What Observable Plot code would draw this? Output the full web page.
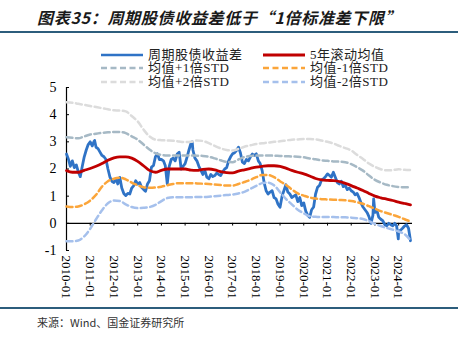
<!DOCTYPE html>
<html><head><meta charset="utf-8">
<script src="https://cdn.jsdelivr.net/npm/d3@7"></script>
<script src="https://cdn.jsdelivr.net/npm/@observablehq/plot@0.6"></script>
<style>
body{margin:0;background:#fff;}
#wrap{position:relative;width:463px;height:342px;overflow:hidden;background:#fff;}
#title{position:absolute;left:37px;top:5px;font-family:"Noto Sans CJK SC",sans-serif;font-weight:bold;font-style:italic;font-size:16px;letter-spacing:0.7px;color:#1a1a1a;white-space:nowrap;}
.hr{position:absolute;left:0;width:458px;height:1.5px;background:#2C5D7C;}
.leg{position:absolute;font-family:"Liberation Serif","Noto Sans CJK SC",serif;font-size:13px;letter-spacing:0.5px;color:#222;white-space:nowrap;line-height:13px;}
.sw{position:absolute;}
#chart{position:absolute;left:0;top:80px;}
#source{position:absolute;left:37px;top:314px;font-family:"Noto Sans CJK SC",sans-serif;font-size:11px;color:#333;white-space:nowrap;}
</style></head><body>
<div id="wrap">
<div id="title">图表35：周期股债收益差低于“1倍标准差下限”</div>
<div class="hr" style="top:31px"></div>
<div id="legend"></div>
<div id="chart"></div>
<div class="hr" style="top:307px"></div>
<div id="source">来源：Wind、国金证券研究所</div>
</div>
<script>
// ---- series names & colours ----
const seriesNames = ["周期股债收益差","5年滚动均值","均值+1倍STD","均值-1倍STD","均值+2倍STD","均值-2倍STD"];
const seriesColors = ["#2F73C6","#C00000","#A6B9C5","#FBA53A","#DCDCDC","#A5C0EC"];

// ---- axis ticks ----
const yTicks = [-1, 0, 1, 2, 3, 4, 5];
const xTickLabels = ["2010-01","2011-01","2012-01","2013-01","2014-01","2015-01","2016-01","2017-01","2018-01","2019-01","2020-01","2021-01","2022-01","2023-01","2024-01"];

// ---- 周期股债收益差 (monthly readings, 2010-01 .. 2024-07) ----
const spread = [
  2.55, 2.35, 2.10, 2.30, 2.05, 2.15, 1.90, 1.72, 2.10, 2.45, 2.70, 2.90, // 2010
  3.00, 2.85, 3.02, 2.80, 2.75, 2.62, 2.50, 2.45, 2.35, 2.00, 1.70, 1.55, // 2011
  1.50, 1.65, 1.45, 1.69, 1.30, 1.10, 1.02, 1.10, 1.08, 1.30, 1.39, 1.57, // 2012
  1.45, 1.50, 1.33, 1.25, 1.18, 1.45, 1.57, 2.07, 2.13, 2.45, 2.56, 2.35, // 2013
  2.35, 2.30, 2.13, 1.45, 2.10, 2.35, 2.40, 2.30, 2.55, 2.62, 2.00, 2.10, // 2014
  2.20, 2.45, 2.70, 2.95, 2.70, 2.40, 2.30, 2.10, 1.95, 1.80, 1.94, 1.70, // 2015
  1.64, 1.80, 1.72, 1.76, 1.85, 1.80, 1.76, 1.90, 2.00, 2.05, 2.30, 2.45, // 2016
  2.56, 2.60, 2.68, 2.80, 2.60, 2.25, 2.20, 2.35, 2.30, 2.44, 2.55, 2.50, // 2017
  2.56, 2.30, 2.20, 1.94, 1.50, 1.20, 1.08, 1.15, 1.20, 0.95, 0.90, 0.70, // 2018
  0.59, 1.00, 1.20, 1.42, 1.15, 1.08, 0.95, 1.00, 1.05, 0.80, 0.95, 0.65, // 2019
  0.75, 0.45, 0.30, 0.22, 0.50, 0.60, 1.08, 1.33, 1.40, 1.60, 1.64, 1.72, // 2020
  1.82, 1.76, 1.70, 1.88, 1.70, 1.50, 1.45, 1.55, 1.35, 1.40, 1.24, 1.30, // 2021
  1.20, 1.15, 1.05, 1.10, 0.95, 0.75, 0.60, 0.50, 0.40, 0.25, 0.00, 0.30, // 2022
  0.40, 0.47, 0.22, 0.15, 0.10, -0.05, -0.09, 0.00, -0.05, -0.09, 0.00, -0.10, // 2023
  -0.30, -0.25, -0.18, -0.10, -0.05, -0.18, -0.64 // 2024
];
// a few short spikes seen between the monthly readings
const spikeDates = ["2011-03-10","2015-04-20","2022-12-12","2023-12-26"];
const spikeValues = [3.05, 3.0, 0.90, -0.57];

// ---- rolling bands (quarterly readings, 2010-01 .. 2024-07) ----
const meanPlus2 = [4.46,4.44,4.40,4.36, 4.32,4.28,4.24,4.20, 4.16,4.15,4.12,3.95, 3.75,3.45,3.20,3.08,
  3.06,3.05,3.04,3.01, 2.99,3.00,3.05,3.03, 2.95,2.85,2.76,2.70, 2.68,2.74,2.82,2.87, 2.92,2.95,2.97,3.00,
  3.02,3.05,3.08,3.09, 3.10,3.10,3.09,3.05, 3.00,2.94,2.85,2.77, 2.68,2.52,2.37,2.20, 2.08,1.99,1.95,1.96, 1.99,1.97,1.96];
const meanPlus1 = [3.17,3.15,3.13,3.20, 3.27,3.30,3.33,3.35, 3.36,3.36,3.32,3.20, 3.08,2.90,2.72,2.58,
  2.52,2.50,2.50,2.50, 2.50,2.50,2.49,2.48, 2.45,2.39,2.32,2.26, 2.25,2.35,2.44,2.48, 2.50,2.50,2.50,2.49,
  2.48,2.47,2.46,2.45, 2.43,2.39,2.36,2.32, 2.30,2.28,2.27,2.25, 2.18,2.07,1.94,1.76, 1.60,1.50,1.42,1.37, 1.34,1.33,1.33];
const mean5y = [1.94,1.88,1.88,1.95, 2.02,2.10,2.20,2.32, 2.41,2.45,2.45,2.40, 2.28,2.12,1.95,1.88,
  1.95,2.00,2.00,2.00, 2.00,1.96,1.95,1.99, 2.00,1.97,1.90,1.87, 1.86,1.92,1.97,2.02, 2.07,2.10,2.12,2.12,
  2.10,2.03,1.95,1.88, 1.82,1.74,1.65,1.60, 1.58,1.57,1.54,1.47, 1.39,1.30,1.21,1.10, 1.00,0.94,0.89,0.84, 0.78,0.73,0.68];
const meanMinus1 = [0.62,0.60,0.62,0.70, 0.84,1.05,1.35,1.55, 1.64,1.68,1.62,1.50, 1.40,1.33,1.31,1.32,
  1.35,1.40,1.45,1.48, 1.48,1.48,1.47,1.46, 1.45,1.43,1.41,1.39, 1.39,1.45,1.52,1.60, 1.70,1.78,1.78,1.70,
  1.55,1.42,1.25,1.10, 1.02,0.95,0.91,0.89, 0.88,0.87,0.86,0.85, 0.82,0.78,0.72,0.63, 0.54,0.45,0.38,0.31, 0.24,0.15,0.07];
const meanMinus2 = [-0.66,-0.66,-0.63,-0.48, -0.20,0.15,0.48,0.74, 0.84,0.82,0.70,0.60, 0.56,0.57,0.60,0.68,
  0.82,0.93,0.96,0.96, 0.96,0.96,0.97,0.97, 0.98,1.00,1.02,1.04, 1.06,1.10,1.16,1.27, 1.38,1.48,1.50,1.40,
  1.15,0.90,0.70,0.50, 0.37,0.26,0.24,0.23, 0.23,0.23,0.22,0.22, 0.21,0.19,0.16,0.08, -0.02,-0.10,-0.17,-0.23, -0.30,-0.40,-0.62];

// ---- build tables ----
const start = new Date(Date.UTC(2010,0,1));
const end = new Date(Date.UTC(2024,7,1));
const months = d3.utcMonth.range(start, end);
const quarters = d3.utcMonth.every(3).range(start, end);
const main = months.map((d,i)=>({date:d, value:spread[i]}))
  .concat(spikeDates.map((d,i)=>({date:new Date(d+"T00:00:00Z"), value:spikeValues[i]})))
  .sort((a,b)=>a.date-b.date);
const band = (arr) => quarters.map((d,i)=>({date:d, value:arr[i]}));
const xTicks = xTickLabels.map(s => new Date(s + "-01T00:00:00Z"));

const dash = "6,3.5";
const chart = Plot.plot({
  width: 463, height: 225,
  marginLeft: 66, marginRight: 51, marginTop: 7, marginBottom: 55,
  style: {fontFamily: "Liberation Serif, serif", fontSize: "13px", color: "#000", background: "transparent", overflow: "visible"},
  x: {type: "utc", domain: [start, end]},
  y: {domain: [-1, 5]},
  marks: [
    Plot.axisY({ticks: yTicks, tickSize: 0, tickPadding: 10, tickFormat: d => String(d), label: null, fontSize: 14}),
    Plot.axisY({ticks: yTicks, tickSize: 3, dx: 3, tickFormat: () => "", label: null, stroke: "#000"}),
    Plot.axisX({ticks: xTicks, tickSize: 0, tickRotate: 90, tickPadding: 5, tickFormat: d3.utcFormat("%Y-%m"), label: null, fontSize: 13}),
    Plot.ruleX([start], {y1: -1, y2: 5, stroke: "#000", strokeWidth: 1.2}),
    Plot.ruleY([0], {stroke: "#000", strokeWidth: 1.2}),
    Plot.ruleX(xTicks, {y1: 0, y2: -0.1, stroke: "#000"}),
    Plot.line(main, {x: "date", y: "value", stroke: seriesColors[0], strokeWidth: 2.8}),
    Plot.line(band(mean5y), {x: "date", y: "value", stroke: seriesColors[1], strokeWidth: 2.8, curve: "monotone-x"}),
    Plot.line(band(meanPlus1), {x: "date", y: "value", stroke: seriesColors[2], strokeWidth: 2.5, strokeDasharray: dash, curve: "monotone-x"}),
    Plot.line(band(meanMinus1), {x: "date", y: "value", stroke: seriesColors[3], strokeWidth: 2.5, strokeDasharray: dash, curve: "monotone-x"}),
    Plot.line(band(meanPlus2), {x: "date", y: "value", stroke: seriesColors[4], strokeWidth: 2.5, strokeDasharray: dash, curve: "monotone-x"}),
    Plot.line(band(meanMinus2), {x: "date", y: "value", stroke: seriesColors[5], strokeWidth: 2.5, strokeDasharray: dash, curve: "monotone-x"})
  ]
});
document.getElementById("chart").appendChild(chart);

// ---- legend ----
const legend = document.getElementById("legend");
const legPos = [[101,54.5],[263,54.5],[101,68],[263,68],[101,81.5],[263,81.5]];
seriesNames.forEach((name,i) => {
  const [x,y] = legPos[i];
  const dashed = i >= 2;
  const sw = document.createElementNS("http://www.w3.org/2000/svg","svg");
  sw.setAttribute("width", 42); sw.setAttribute("height", 6);
  sw.setAttribute("class","sw");
  sw.style.left = x + "px"; sw.style.top = (y - 3) + "px";
  sw.innerHTML = `<line x1="0" y1="3" x2="42" y2="3" stroke="${seriesColors[i]}" stroke-width="${i===1?2.8:2.5}" ${dashed?`stroke-dasharray="${dash}"`:""}/>`;
  legend.appendChild(sw);
  const t = document.createElement("div");
  t.className = "leg"; t.textContent = name;
  t.style.left = (x + 47) + "px"; t.style.top = (y - 7) + "px";
  legend.appendChild(t);
});
</script>
</body></html>
